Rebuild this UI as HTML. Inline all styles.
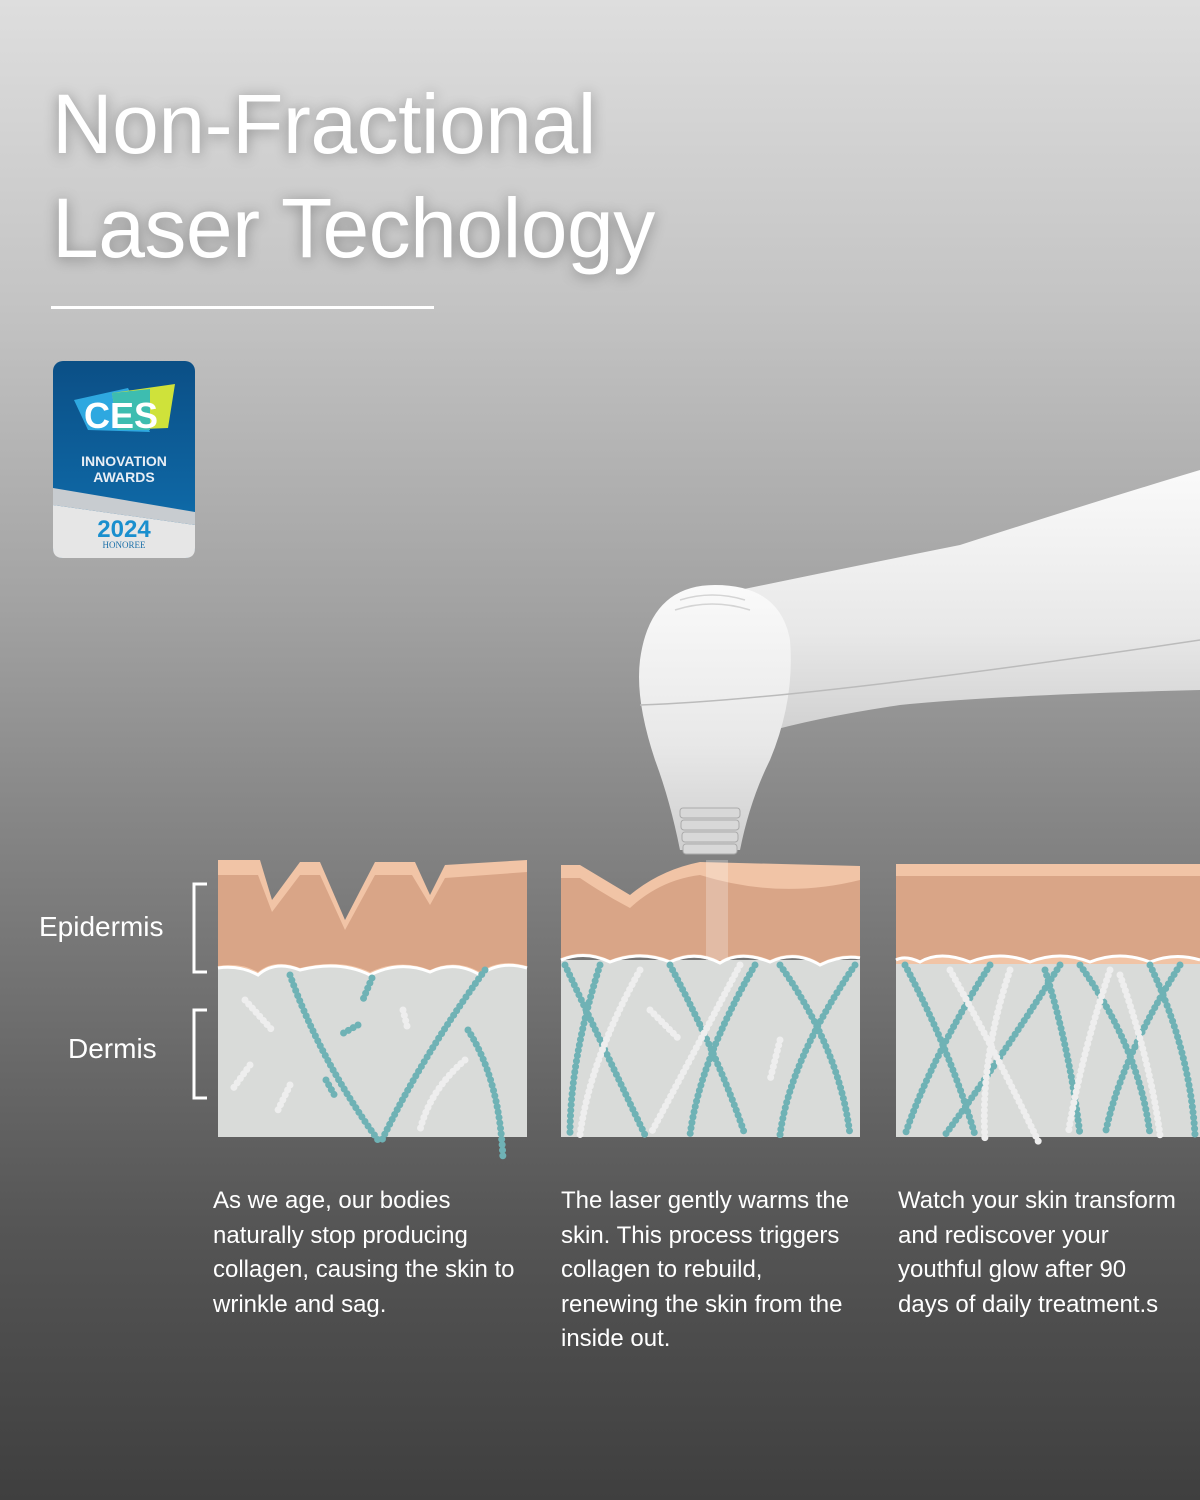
<!DOCTYPE html>
<html><head><meta charset="utf-8"><style>
body{margin:0}
#c{position:relative;width:1200px;height:1500px;overflow:hidden;font-family:"Liberation Sans",sans-serif;
background:linear-gradient(180deg,#dedede 0%,#c4c4c4 20%,#a3a3a3 40%,#858585 55%,#6a6a6a 70%,#555 82%,#3f3f3f 100%);}
h1{position:absolute;left:52px;top:72px;margin:0;color:#fff;font-weight:normal;font-size:84px;line-height:104px;letter-spacing:-0.5px;text-shadow:0 2px 14px rgba(0,0,0,.35)}
.rule{position:absolute;left:51px;top:306px;width:383px;height:3px;background:#fff}
.lab{position:absolute;color:#fff;font-size:28px}
.txt{position:absolute;color:#fff;font-size:24px;line-height:34.5px;top:1184px}
</style></head><body><div id="c">
<h1>Non-Fractional<br>Laser Techology</h1>
<div class="rule"></div>
<svg style="position:absolute;left:0;top:0" width="1200" height="1500">
<defs>
<linearGradient id="bd" x1="0" y1="0" x2="0" y2="1"><stop offset="0" stop-color="#0b4f86"/><stop offset=".7" stop-color="#0e66a3"/><stop offset="1" stop-color="#1177b5"/></linearGradient>
<linearGradient id="dv" x1="0" y1="0" x2="0" y2="1"><stop offset="0" stop-color="#fafafa"/><stop offset=".6" stop-color="#e8e8e8"/><stop offset="1" stop-color="#cfcfcf"/></linearGradient>
</defs>
<!-- CES badge -->
<rect x="53" y="361" width="142" height="197" rx="10" fill="url(#bd)"/>
<path d="M53 505 L195 525 L195 548 Q195 558 185 558 L63 558 Q53 558 53 548Z" fill="#e6e6e6"/>
<path d="M53 488 L195 512 L195 525 L53 505Z" fill="#c8ccd0"/>
<polygon points="74,400 128,388 150,432 88,430" fill="#2ea8e0"/>
<polygon points="112,393 175,384 168,428 118,430" fill="#cfe23a"/>
<polygon points="112,393 150,389 150,430 118,430" fill="#3dbdb0"/>
<text x="121" y="428" text-anchor="middle" fill="#fff" font-size="36" font-weight="bold" font-family="Liberation Sans">CES</text>
<text x="124" y="466" text-anchor="middle" fill="#e8eef5" font-size="14" font-weight="bold" font-family="Liberation Sans">INNOVATION</text>
<text x="124" y="482" text-anchor="middle" fill="#e8eef5" font-size="14" font-weight="bold" font-family="Liberation Sans">AWARDS</text>
<text x="124" y="537" text-anchor="middle" fill="#1a8fce" font-size="24" font-weight="bold" font-family="Liberation Sans">2024</text>
<text x="124" y="548" text-anchor="middle" fill="#1a6fa8" font-size="9" font-family="Liberation Serif">HONOREE</text>
<!-- device -->
<path d="M1200 470 Q1100 500 960 545 Q860 565 730 592 L740 740 Q800 720 900 705 Q1000 695 1200 690Z" fill="url(#dv)"/>
<path d="M715 585 Q780 585 790 640 Q795 700 770 760 Q750 800 740 850 L680 850 Q670 800 655 760 Q635 700 640 660 Q650 585 715 585Z" fill="url(#dv)"/>
<path d="M640 705 Q800 700 1200 640" stroke="#bbb" stroke-width="1.5" fill="none"/>
<g fill="none" stroke="#d4d4d4" stroke-width="1.5"><path d="M680 600 Q712 590 745 600"/><path d="M675 610 Q712 598 750 610"/></g>
<g fill="#d8d8d8" stroke="#aaa"><rect x="680" y="808" width="60" height="10" rx="3"/><rect x="681" y="820" width="58" height="10" rx="3"/><rect x="682" y="832" width="56" height="10" rx="3"/><rect x="683" y="844" width="54" height="10" rx="3"/></g>
<!-- panels -->
<g>
<rect x="218" y="960" width="309" height="177" fill="#d9dbd9"/>
<path d="M218 860 L260 860 L272 900 L300 862 L320 862 L345 920 L375 862 L415 862 L430 895 L445 865 L527 860 L527 968 Q500 960 480 975 Q455 960 430 972 Q400 960 370 975 Q340 960 300 970 Q275 960 258 975 Q240 965 218 968Z" fill="#f1c4a6"/>
<path d="M218 875 L258 875 L272 912 L300 875 L320 875 L345 930 L375 875 L412 875 L430 905 L445 878 L527 872 L527 966 Q500 958 480 972 Q455 958 430 970 Q400 958 370 972 Q340 958 300 968 Q275 958 258 972 Q240 962 218 966Z" fill="#d9a587"/>
<path d="M218 968 Q240 965 258 975 Q275 960 300 970 Q340 960 370 975 Q400 960 430 972 Q455 960 480 975 Q500 960 527 968" stroke="#fff" stroke-width="3" fill="none"/>
</g>
<g>
<rect x="561" y="960" width="299" height="177" fill="#d9dbd9"/>
<path d="M561 865 L580 865 Q605 880 630 895 Q660 870 700 862 L860 866 L860 958 Q840 955 820 965 Q795 950 770 962 Q740 950 720 963 Q695 950 670 962 Q640 950 610 962 Q585 950 561 960Z" fill="#f1c4a6"/>
<path d="M561 878 L580 878 Q605 895 630 908 Q660 880 700 875 Q780 900 860 880 L860 956 Q840 953 820 963 Q795 948 770 960 Q740 948 720 961 Q695 948 670 960 Q640 948 610 960 Q585 948 561 958Z" fill="#d9a587"/>
<path d="M561 960 Q585 950 610 962 Q640 950 670 962 Q695 950 720 963 Q740 950 770 962 Q795 950 820 965 Q840 955 860 958" stroke="#fff" stroke-width="3" fill="none"/>
<rect x="706" y="860" width="22" height="100" fill="#fff" opacity=".25"/>
</g>
<g>
<rect x="896" y="960" width="304" height="177" fill="#d9dbd9"/>
<rect x="896" y="864" width="304" height="100" fill="#f1c4a6"/>
<path d="M896 876 L1200 876 L1200 960 Q1175 952 1150 962 Q1120 950 1090 962 Q1060 950 1030 962 Q1000 950 970 962 Q940 950 920 962 Q905 955 896 958Z" fill="#d9a587"/>
<path d="M896 960 Q905 955 920 962 Q940 950 970 962 Q1000 950 1030 962 Q1060 950 1090 962 Q1120 950 1150 962 Q1175 952 1200 960" stroke="#fff" stroke-width="3" fill="none"/>
</g>
<!-- collagen -->
<g fill="none" stroke-linecap="round" stroke-dasharray="0 5.5" stroke-width="7">
<g stroke="#6fb2b5">
<path d="M290 975 Q320 1060 378 1140"/><path d="M485 970 Q420 1060 382 1140"/><path d="M468 1030 Q500 1080 503 1160"/>
<path d="M372 978 L362 1002"/><path d="M358 1025 L340 1035"/><path d="M326 1080 L336 1098"/>
<path d="M565 965 Q600 1040 645 1135"/><path d="M600 965 Q570 1060 570 1135"/><path d="M670 965 Q720 1060 745 1135"/><path d="M755 965 Q700 1060 690 1135"/><path d="M780 965 Q840 1050 850 1135"/><path d="M855 965 Q790 1060 780 1135"/>
<path d="M905 965 Q950 1050 975 1135"/><path d="M990 965 Q930 1060 905 1135"/><path d="M1060 965 Q1000 1060 945 1135"/><path d="M1080 965 Q1140 1050 1150 1135"/><path d="M1180 965 Q1120 1060 1105 1135"/><path d="M1150 965 Q1190 1050 1195 1135"/><path d="M1045 970 Q1070 1050 1080 1135"/>
</g>
<g stroke="#eeeeee">
<path d="M245 1000 L272 1030"/><path d="M403 1010 L408 1030"/><path d="M290 1085 L278 1110"/><path d="M250 1065 L232 1090"/><path d="M465 1060 Q430 1090 420 1130"/>
<path d="M650 1010 L680 1040"/><path d="M640 970 Q590 1060 580 1135"/><path d="M740 965 Q690 1060 650 1135"/><path d="M780 1040 L770 1080"/>
<path d="M950 970 Q1000 1060 1040 1145"/><path d="M1010 970 Q980 1060 985 1140"/><path d="M1110 970 Q1080 1060 1068 1135"/><path d="M1120 975 Q1150 1060 1160 1135"/>
</g>
</g>
<!-- brackets -->
<g stroke="#fff" stroke-width="3" fill="none"><path d="M207 884 L194 884 L194 972 L207 972"/><path d="M207 1010 L194 1010 L194 1098 L207 1098"/></g>
</svg>
<div class="lab" style="left:39px;top:911px">Epidermis</div>
<div class="lab" style="left:68px;top:1033px">Dermis</div>
<div class="txt" style="left:213px">As we age, our bodies<br>naturally stop producing<br>collagen, causing the skin to<br>wrinkle and sag.</div>
<div class="txt" style="left:561px">The laser gently warms the<br>skin. This process triggers<br>collagen to rebuild,<br>renewing the skin from the<br>inside out.</div>
<div class="txt" style="left:898px">Watch your skin transform<br>and rediscover your<br>youthful glow after 90<br>days of daily treatment.s</div>
</div></body></html>
